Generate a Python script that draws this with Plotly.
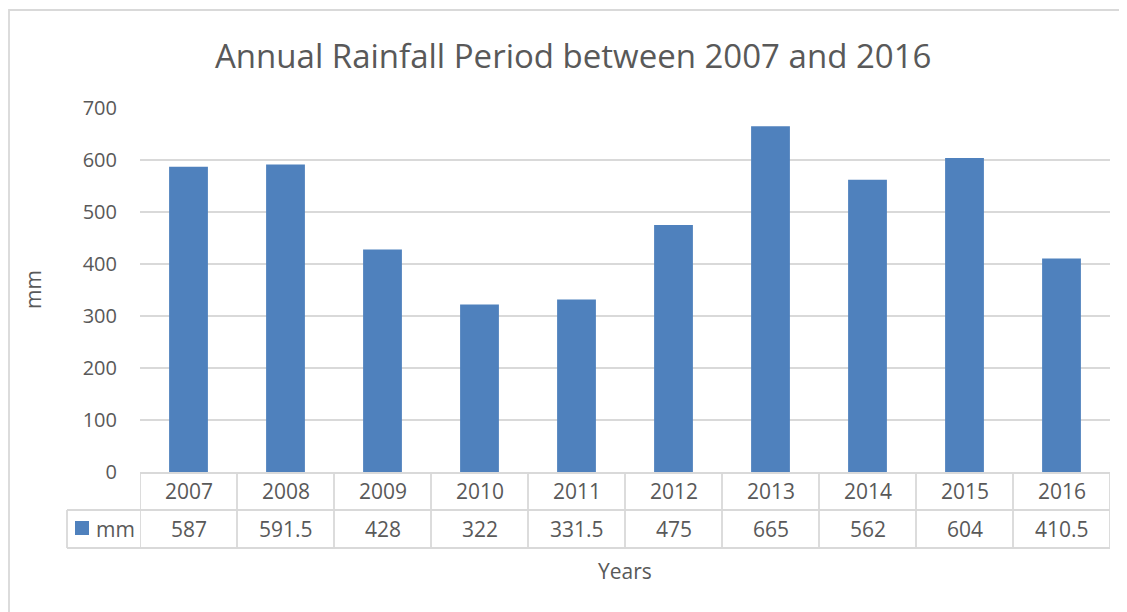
import plotly.graph_objects as go

# ---- data ----
years = ["2007", "2008", "2009", "2010", "2011", "2012", "2013", "2014", "2015", "2016"]
rainfall_mm = [587, 591.5, 428, 322, 331.5, 475, 665, 562, 604, 410.5]
y_ticks = [0, 100, 200, 300, 400, 500, 600, 700]
series_name = "mm"
title_text = "Annual Rainfall Period between 2007 and 2016"
x_title = "Years"
y_title = "mm"

# ---- layout geometry (page pixels; page body has an 8px margin) ----
OFF = 8
W, H = 1127 - OFF, 612 - OFF
L, R, T, B = 140, 1110, 108, 472   # plot area in page pixels
FONT = "Open Sans"
TXT = "#595959"
GRID = "#d9d9d9"
BAR = "#4F81BD"


def px(x):
    return (x - L) / (R - L)


def py(y):
    return (B - y) / (B - T)


def fmt(v):
    return f"{v:g}"


fig = go.Figure(
    go.Bar(x=years, y=rainfall_mm, marker=dict(color=BAR, line=dict(width=0)),
           width=0.40, name=series_name, showlegend=False)
)

shapes = []
ann = []

# outer chart border
shapes.append(dict(type="rect", xref="paper", yref="paper", x0=px(9), x1=px(1150),
                   y0=py(10), y1=py(640), line=dict(color=GRID, width=1.8), layer="below"))

# data table lines
row_top, row_mid, row_bot = 473, 510, 548
shapes.append(dict(type="line", xref="paper", yref="paper", x0=0, x1=1,
                   y0=py(row_top), y1=py(row_top), line=dict(color=GRID, width=1.8)))
for yy in (row_mid, row_bot):
    shapes.append(dict(type="line", xref="paper", yref="paper", x0=px(67), x1=1,
                       y0=py(yy), y1=py(yy), line=dict(color=GRID, width=1.8)))
shapes.append(dict(type="line", xref="paper", yref="paper", x0=px(67), x1=px(67),
                   y0=py(row_mid), y1=py(row_bot), line=dict(color=GRID, width=1.8)))
for i in range(len(years) + 1):
    shapes.append(dict(type="line", xref="x", yref="paper", x0=i - 0.5, x1=i - 0.5,
                       y0=py(row_top), y1=py(row_bot), line=dict(color=GRID, width=1.8)))

# legend key in the table
shapes.append(dict(type="rect", xref="paper", yref="paper", x0=px(75), x1=px(89),
                   y0=py(535), y1=py(521), fillcolor=BAR, line=dict(width=0)))
ann.append(dict(xref="paper", yref="paper", x=px(94), y=py(529), text=series_name,
                showarrow=False, xanchor="left", yanchor="middle",
                font=dict(family=FONT, size=21, color=TXT)))

for i, (yr, v) in enumerate(zip(years, rainfall_mm)):
    ann.append(dict(xref="x", yref="paper", x=i, y=py(491), text=yr, showarrow=False,
                    xanchor="center", yanchor="middle",
                    font=dict(family=FONT, size=21, color=TXT)))
    ann.append(dict(xref="x", yref="paper", x=i, y=py(529), text=fmt(v), showarrow=False,
                    xanchor="center", yanchor="middle",
                    font=dict(family=FONT, size=21, color=TXT)))

# titles
ann.append(dict(xref="paper", yref="paper", x=px(573), y=py(55), text=title_text,
                showarrow=False, xanchor="center", yanchor="middle",
                font=dict(family=FONT, size=33, color=TXT)))
ann.append(dict(xref="paper", yref="paper", x=0.5, y=py(571), text=x_title,
                showarrow=False, xanchor="center", yanchor="middle",
                font=dict(family=FONT, size=21, color=TXT)))
ann.append(dict(xref="paper", yref="paper", x=px(33), y=0.5, text=y_title, textangle=-90,
                showarrow=False, xanchor="center", yanchor="middle",
                font=dict(family=FONT, size=21, color=TXT)))

fig.update_layout(
    width=W, height=H,
    margin=dict(l=L - OFF, r=(W + OFF) - R, t=T - OFF, b=(H + OFF) - B, pad=0),
    paper_bgcolor="white", plot_bgcolor="white",
    font=dict(family=FONT, color=TXT),
    shapes=shapes, annotations=ann,
    bargap=0.6,
)
fig.update_xaxes(type="category", showticklabels=False, showgrid=False, zeroline=False,
                 showline=False, ticks="", range=[-0.5, len(years) - 0.5])
fig.update_yaxes(range=[0, 700], tickvals=y_ticks, showgrid=True, gridcolor=GRID,
                 gridwidth=1.5, zeroline=False, showline=False, ticks="",
                 tickfont=dict(family=FONT, size=20, color=TXT), ticklabelstandoff=22)

fig.write_html("out.html")
